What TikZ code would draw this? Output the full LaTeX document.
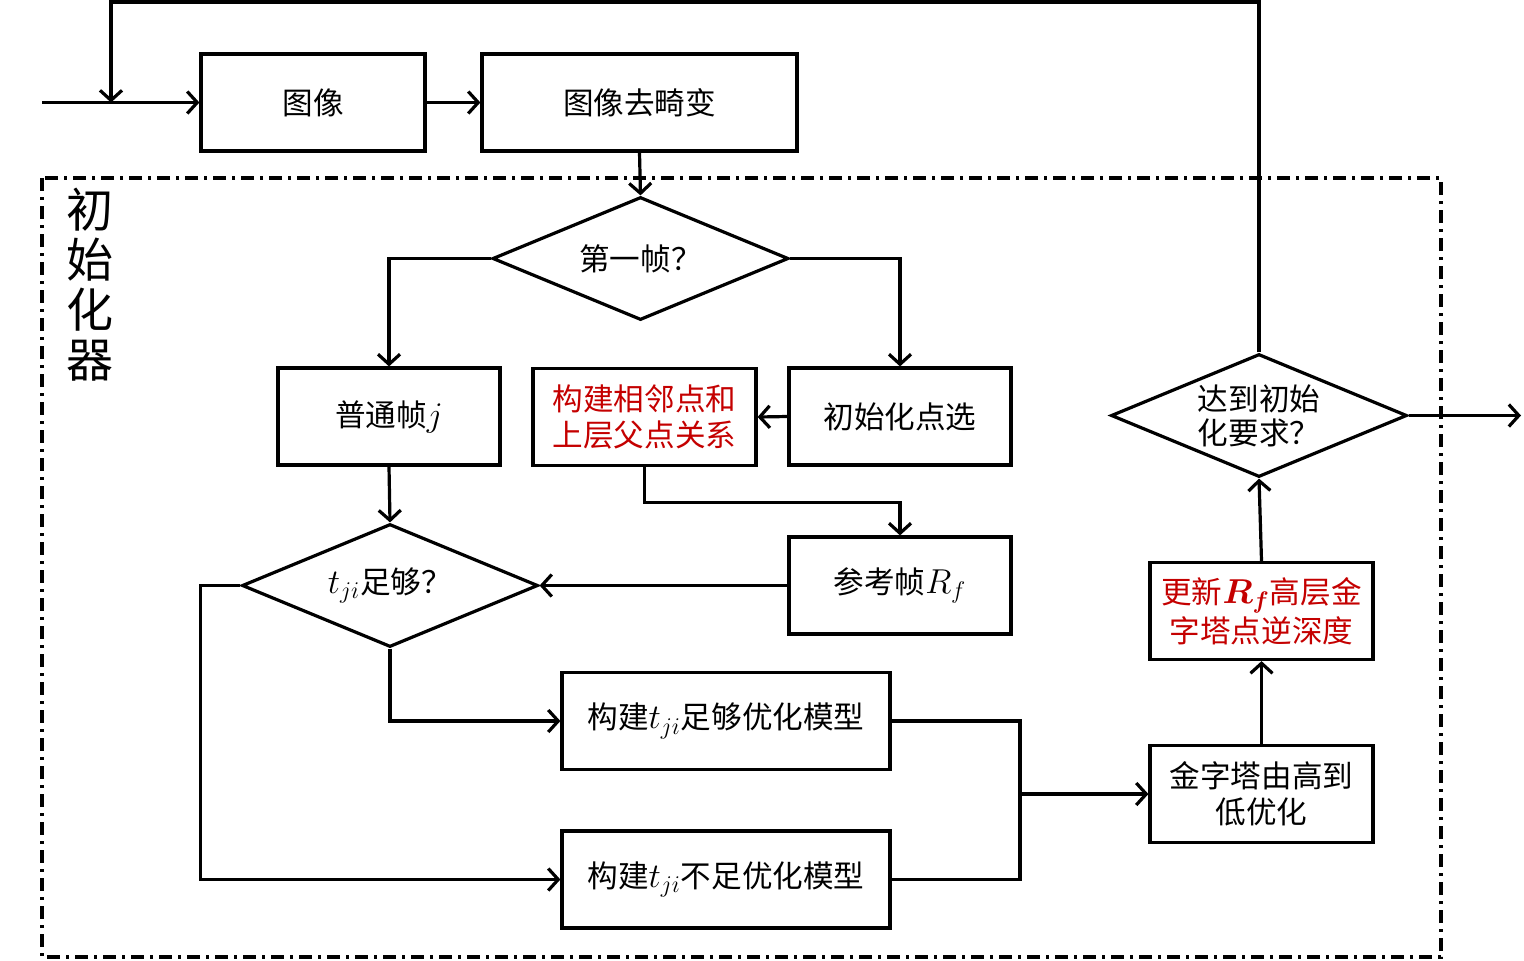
\documentclass[tikz,border=0pt]{standalone}
\usepackage{amsmath,bm}
\usepackage{fontspec}
\newfontfamily\cjk{Noto Sans CJK SC}
\usetikzlibrary{arrows.meta,shapes.geometric}
\definecolor{myred}{RGB}{196,0,0}
\newcommand\mymath[1]{{\fontsize{17.28}{18}\selectfont$#1$}}
\begin{document}
\begin{tikzpicture}[x=0.5pt,y=-0.5pt,line width=1.6pt,
  txt/.style={font=\cjk\fontsize{15.3}{18}\selectfont,align=center},
  box/.style={txt,draw,rectangle,inner sep=0pt,minimum width=#1,minimum height=48.5pt},
  dia/.style={txt,draw,diamond,aspect=2.4,inner sep=0pt,minimum width=148pt,minimum height=61.5pt},
  arr/.style={-{Straight Barb[length=5pt,width=11pt]}},
  frame/.style={dash pattern=on 6.5pt off 3pt on 1.5pt off 3pt}]
\useasboundingbox (0,0) rectangle (1524,960);
% frame
\draw[frame] (42,178) rectangle (1441,957);
\node[font=\cjk\fontsize{23.5}{25}\selectfont,align=center] (lab) at (90,285) {初\\始\\化\\器};
% nodes
\node[box=112pt] (img) at (313,102.5) {图像};
\node[box=157.5pt] (undist) at (639.5,102.5) {图像去畸变};
\node[dia] (d1) at (640.5,258.5) {第一帧？};
\node[box=111pt] (normal) at (389,416.5) {普通帧\mymath{j}};
\node[box=111.5pt,text=myred] (build) at (644.5,417) {构建相邻点和\\上层父点关系};
\node[box=111pt] (initsel) at (900,416.5) {初始化点选};
\node[box=111pt] (ref) at (900,585.5) {参考帧\mymath{R_f}};
\node[dia] (d2) at (390,585.5) {\mymath{t_{ji}}足够？};
\node[box=164pt] (m1) at (726,721) {构建\mymath{t_{ji}}足够优化模型};
\node[box=164pt] (m2) at (726,879.5) {构建\mymath{t_{ji}}不足优化模型};
\node[box=111.5pt] (pyr) at (1261.5,794) {金字塔由高到\\低优化};
\node[box=111.5pt,text=myred] (upd) at (1261.5,611) {更新\mymath{\bm{R_f}}高层金\\[1.5pt]字塔点逆深度};
\node[dia] (d3) at (1259,415.5) {达到初始\\[-1pt]化要求？};
% coordinates
\coordinate (in) at (42,102.5);
\coordinate (tl) at (111,2);
\coordinate (lp) at (111,102.5);
\coordinate (j) at (1020,794);
\coordinate (out) at (1521,415.5);
% connectors
\draw[arr] (in) -- (img.west);
\draw[arr] (d3.north) -- (d3.north |- tl) -- (tl) -- (lp);
\draw[arr] (img.east) -- (undist.west);
\draw[arr] (undist.south) -- (d1.north);
\draw[arr] (d1.west) -| (normal.north);
\draw[arr] (d1.east) -| (initsel.north);
\draw[arr] (initsel.west) -- (build.east);
\draw[arr] (build.south) -- ++(0,35) -| (ref.north);
\draw[arr] (normal.south) -- (d2.north);
\draw[arr] (ref.west) -- (d2.east);
\draw[arr] (d2.south) |- (m1.west);
\draw[arr] (d2.west) -- ++(-40,0) |- (m2.west);
\draw (m1.east) -| (j);
\draw (m2.east) -| (j);
\draw[arr] (j) -- (pyr.west);
\draw[arr] (pyr.north) -- (upd.south);
\draw[arr] (upd.north) -- (d3.south);
\draw[arr] (d3.east) -- (out);
\end{tikzpicture}
\end{document}
